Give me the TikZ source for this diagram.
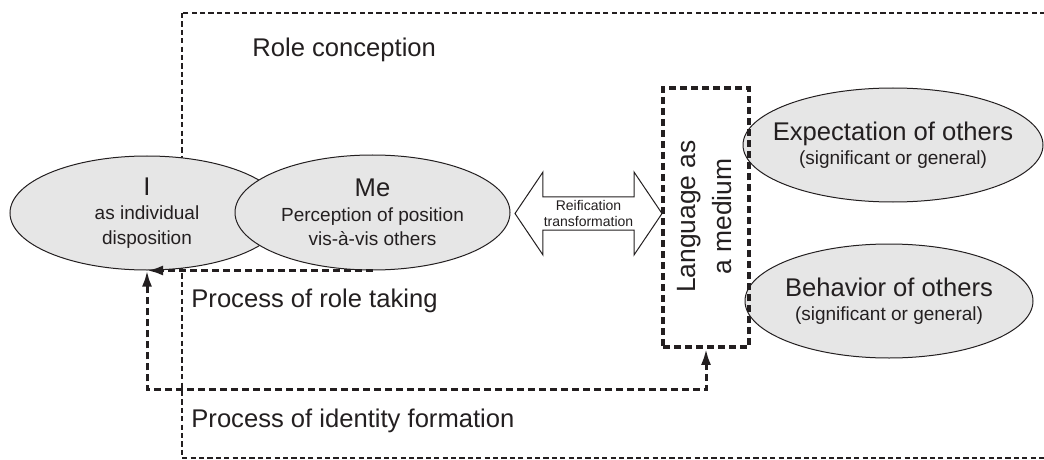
\documentclass[tikz,border=0pt]{standalone}
\usepackage{fontspec}
\setmainfont{Liberation Sans}
\usetikzlibrary{shapes.geometric,shapes.arrows,arrows.meta}
\definecolor{ink}{HTML}{231F20}
\definecolor{shade}{HTML}{E6E6E6}

\begin{document}
\begin{tikzpicture}[x=0.5pt,y=-0.5pt,
    bubble/.style={ellipse,draw=ink,line width=0.5pt,fill=shade,inner ysep=0pt,inner xsep=-20pt,
      align=center,text=ink,font=\fontsize{9.5}{12.3}\selectfont},
    caption/.style={anchor=base west,inner sep=0pt,text=ink,font=\fontsize{12.8}{15}\selectfont},
    framebox/.style={draw=ink,line width=0.9pt,dash pattern=on 2.6pt off 1.6pt},
    lhead/.tip={Latex[length=8pt,width=5pt]},
    conn/.style={draw=ink,line width=1.5pt,dash pattern=on 3.5pt off 2pt,arrows={-lhead}},
    twoway/.style={double arrow,draw=ink,line width=0.5pt,fill=white,inner sep=0pt,
      minimum height=73.5pt,minimum width=41.5pt,double arrow head extend=10pt,
      double arrow tip angle=112,align=center,text=ink,font=\fontsize{7}{7.8}\selectfont}]
  \useasboundingbox (0,0) rectangle (1044,460);

  % role conception frame, runs out past the right edge
  \draw[framebox] (182,13) rectangle (1080,458);
  \node[caption] (rolecon) at (252,57) {Role conception};

  % I and Me
  \node[bubble,minimum width=137pt,minimum height=57pt] (i) at (147,213)
    {{\fontsize{12.8}{14}\selectfont I}\\as individual\\disposition};
  \node[bubble,minimum width=137.5pt,minimum height=57.5pt] (me) at (372.5,212.5)
    {{\fontsize{12.8}{14}\selectfont Me}\\Perception of position\\vis-à-vis others};

  % others
  \node[bubble,minimum width=150pt,minimum height=57pt] (expect) at (893,145)
    {{\fontsize{12.8}{14}\selectfont Expectation of others}\\(significant or general)};
  \node[bubble,minimum width=144pt,minimum height=57pt] (behave) at (889,301)
    {{\fontsize{12.8}{14}\selectfont Behavior of others}\\(significant or general)};

  % language box
  \node[draw=ink,line width=1.8pt,dash pattern=on 3.5pt off 2pt,inner sep=0pt,
    minimum width=43pt,minimum height=129.5pt] (lang) at (706,217.5) {};
  \node[rotate=90,align=center,inner sep=0pt,text=ink,
    font=\fontsize{13.2}{18}\selectfont] (langtxt) at (705,216.5) {Language as\\a medium};

  \node[twoway] (reif) at (588.5,213.5) {Reification\\transformation};

  % processes
  \draw[conn] (me.south) -- (i.south);
  \node[caption] (taking) at (191,307) {Process of role taking};
  \draw[conn,lhead-lhead] (lang.south) -- ++(0,41) -| (i.south);
  \node[caption] (identity) at (191,427) {Process of identity formation};
\end{tikzpicture}
\end{document}
